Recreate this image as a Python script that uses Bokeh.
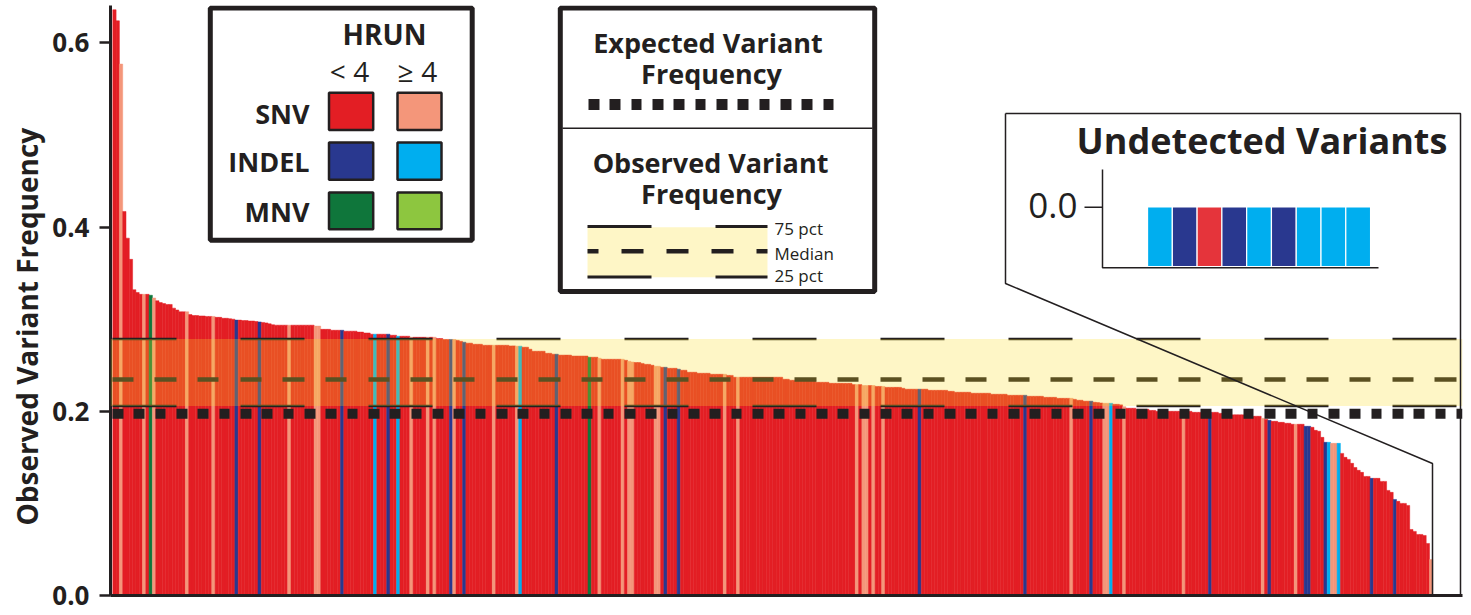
import numpy as np
from bokeh.plotting import figure
from bokeh.models import Range1d, FixedTicker, PrintfTickFormatter, Span, BoxAnnotation, Title
from bokeh.core.properties import value
from bokeh.embed import file_html
from bokeh.resources import INLINE

FONT = "Open Sans"
INK = "#231f20"

# ---------------- data ----------------
observed_freq = [
    0.636, 0.624, 0.577, 0.417, 0.388, 0.365, 0.332, 0.329, 0.327, 0.327,
    0.327, 0.326, 0.323, 0.320, 0.318, 0.317, 0.316, 0.316, 0.312, 0.310,
    0.308, 0.308, 0.308, 0.305, 0.304, 0.304, 0.3035, 0.3035, 0.303, 0.303,
    0.303, 0.302, 0.302, 0.301, 0.301, 0.3005, 0.300, 0.299, 0.299, 0.2985,
    0.2985, 0.298, 0.298, 0.2975, 0.297, 0.2965, 0.296, 0.295, 0.294, 0.2935,
    0.2935, 0.2935, 0.2935, 0.2935, 0.2935, 0.2935, 0.2935, 0.2935, 0.2935, 0.2935,
    0.2935, 0.2925, 0.2925, 0.289, 0.289, 0.289, 0.288, 0.288, 0.288, 0.288,
    0.287, 0.287, 0.287, 0.287, 0.286, 0.286, 0.285, 0.285, 0.2837, 0.2837,
    0.2837, 0.2837, 0.2837, 0.2837, 0.2826, 0.2826, 0.2815, 0.2815, 0.2815, 0.2815,
    0.2804, 0.2804, 0.2804, 0.2804, 0.2804, 0.2804, 0.2804, 0.2804, 0.279, 0.279,
    0.278, 0.278, 0.278, 0.278, 0.277, 0.276, 0.275, 0.274, 0.274, 0.2728,
    0.2728, 0.2728, 0.2717, 0.2717, 0.2717, 0.2717, 0.2717, 0.2717, 0.2717, 0.2717,
    0.271, 0.271, 0.2707, 0.2707, 0.2696, 0.2696, 0.2674, 0.2652, 0.2652, 0.2652,
    0.2652, 0.263, 0.263, 0.262, 0.262, 0.261, 0.261, 0.261, 0.261, 0.260,
    0.260, 0.260, 0.260, 0.260, 0.2587, 0.2587, 0.2587, 0.2576, 0.2565, 0.2565,
    0.2565, 0.2565, 0.2565, 0.2565, 0.2565, 0.2554, 0.2543, 0.2535, 0.253, 0.253,
    0.252, 0.251, 0.251, 0.250, 0.2489, 0.2489, 0.2478, 0.2478, 0.2467, 0.2467,
    0.2467, 0.2457, 0.2446, 0.2446, 0.2424, 0.2424, 0.2424, 0.2413, 0.2413, 0.2413,
    0.2413, 0.2402, 0.2402, 0.2402, 0.2402, 0.2402, 0.239, 0.239, 0.237, 0.237,
    0.237, 0.237, 0.237, 0.237, 0.237, 0.237, 0.237, 0.237, 0.237, 0.237,
    0.237, 0.237, 0.237, 0.2348, 0.2348, 0.2337, 0.2337, 0.2337, 0.2337, 0.2337,
    0.2337, 0.2337, 0.2337, 0.2315, 0.2315, 0.2315, 0.2315, 0.2304, 0.2304, 0.2304,
    0.2304, 0.2304, 0.2304, 0.2304, 0.229, 0.229, 0.229, 0.228, 0.228, 0.228,
    0.228, 0.227, 0.227, 0.227, 0.226, 0.226, 0.226, 0.226, 0.226, 0.225,
    0.224, 0.224, 0.224, 0.224, 0.224, 0.224, 0.224, 0.2228, 0.2228, 0.2228,
    0.2228, 0.2228, 0.2228, 0.2217, 0.2217, 0.2207, 0.2207, 0.2207, 0.2207, 0.2207,
    0.2196, 0.2196, 0.2196, 0.2196, 0.2196, 0.2196, 0.2185, 0.2185, 0.2185, 0.2185,
    0.2185, 0.2174, 0.2174, 0.2174, 0.2174, 0.2174, 0.2174, 0.2163, 0.2163, 0.2163,
    0.2163, 0.2163, 0.2152, 0.2152, 0.2152, 0.2152, 0.2141, 0.2141, 0.2141, 0.2141,
    0.2141, 0.213, 0.212, 0.212, 0.211, 0.211, 0.211, 0.2098, 0.2095, 0.209,
    0.2087, 0.2087, 0.2087, 0.2076, 0.2076, 0.207, 0.205, 0.2033, 0.2033, 0.2033,
    0.2022, 0.2022, 0.2022, 0.2022, 0.201, 0.201, 0.200, 0.200, 0.200, 0.200,
    0.200, 0.200, 0.200, 0.200, 0.200, 0.200, 0.200, 0.1989, 0.1989, 0.1989,
    0.1989, 0.1989, 0.1989, 0.1989, 0.1989, 0.1978, 0.1978, 0.1978, 0.1978, 0.1962,
    0.1962, 0.1962, 0.1962, 0.1957, 0.1946, 0.1946, 0.1946, 0.1946, 0.1924, 0.1913,
    0.1902, 0.1891, 0.1891, 0.188, 0.188, 0.187, 0.187, 0.1859, 0.1859, 0.1859,
    0.1859, 0.1837, 0.1837, 0.1826, 0.1793, 0.1783, 0.1717, 0.1663, 0.1663, 0.1652,
    0.1652, 0.1652, 0.1543, 0.15, 0.1478, 0.1435, 0.139, 0.1359, 0.1337, 0.1293,
    0.1293, 0.1272, 0.1272, 0.1272, 0.1239, 0.1239, 0.1141, 0.112, 0.1043, 0.1022,
    0.1, 0.1, 0.0978, 0.0717, 0.0696, 0.0663, 0.0663, 0.0652, 0.0565, 0.039,
]
assert len(observed_freq) == 400

# bar positions (index in sorted order) of the non "SNV, HRUN < 4" variants
snv_hrun_ge4 = [2, 9, 12, 22, 30, 53, 61, 62, 90, 95, 97, 103, 115, 122, 147, 154,
                156, 157, 164, 165, 185, 189, 225, 227, 228, 230, 233, 290, 300,
                301, 306, 324, 348, 358, 369, 370, 399]
indel_hrun_lt4 = [37, 44, 69, 83, 102, 106, 134, 167, 171, 244, 276, 296, 332,
                  350, 361, 362, 367, 381, 388]
indel_hrun_ge4 = [79, 86, 123, 302, 368, 371]
mnv_hrun_lt4 = [11, 144]
mnv_hrun_ge4 = []

undetected_types = ["INDEL_GE4", "INDEL_LT4", "SNV_LT4", "INDEL_LT4", "INDEL_GE4",
                    "INDEL_LT4", "INDEL_GE4", "INDEL_GE4", "INDEL_GE4"]
undetected_freq = [0.0] * 9

EXPECTED = 0.1973
Q25, MEDIAN, Q75 = 0.2058, 0.2345, 0.2785

legend_types = ["SNV", "INDEL", "MNV"]
legend_hrun = ["< 4", "\u2265 4"]

COLORS = {
    "SNV_LT4": "#e31e24", "SNV_GE4": "#f4967a",
    "INDEL_LT4": "#29388f", "INDEL_GE4": "#00aeef",
    "MNV_LT4": "#0f763b", "MNV_GE4": "#8dc63f",
}
BAND = "#fbdd26"
BAND_ALPHA = 0.262

# ---------------- build ----------------
N = len(observed_freq)
vtype = ["SNV_LT4"] * N
for name, idx in [("SNV_GE4", snv_hrun_ge4), ("INDEL_LT4", indel_hrun_lt4),
                  ("INDEL_GE4", indel_hrun_ge4), ("MNV_LT4", mnv_hrun_lt4),
                  ("MNV_GE4", mnv_hrun_ge4)]:
    for i in idx:
        vtype[i] = name
bar_colors = [COLORS[t] for t in vtype]

W, H = 1471, 615
FL, FR, FT, FB = 110, 1462, 5, 595  # plot frame, in page pixels

p = figure(width=W, height=H, output_backend="svg", toolbar_location=None,
           x_range=Range1d(-0.697, 409.0), y_range=Range1d(0, (FB - FT) / 921.0),
           min_border_left=FL, min_border_right=W - FR, min_border_top=FT,
           min_border_bottom=H - FB, background_fill_color="white",
           border_fill_color="white")
p.outline_line_color = None
p.xgrid.visible = False
p.ygrid.visible = False

# helper ranges: page-pixel placement for the decorations, and the inset scale
p.extra_x_ranges = {"px": Range1d(FL, FR), "ix": Range1d(-41.85, 12.71)}
p.extra_y_ranges = {"py": Range1d(FB, FT), "iy": Range1d(-(FB - 206.5) / 59.5, (206.5 - FT) / 59.5)}

# main bars
xs = np.arange(N) + 0.5
p.vbar(x=xs, width=1, top=observed_freq, bottom=0, fill_color=bar_colors,
       line_color=bar_colors, line_width=0.5)

# axes
p.yaxis.ticker = FixedTicker(ticks=[0, 0.2, 0.4, 0.6])
p.yaxis.formatter = PrintfTickFormatter(format="%.1f")
p.yaxis.major_label_text_font = FONT
p.yaxis.major_label_text_font_size = "26px"
p.yaxis.major_label_text_font_style = "bold"
p.yaxis.major_label_text_color = INK
p.yaxis.major_label_standoff = 10
p.yaxis.major_tick_out = 11
p.yaxis.major_tick_in = 0
p.yaxis.major_tick_line_width = 2.5
p.yaxis.major_tick_line_color = INK
p.yaxis.minor_tick_line_color = None
p.yaxis.axis_line_width = 3
p.yaxis.axis_line_color = INK

p.xaxis.ticker = FixedTicker(ticks=[])
p.xaxis.major_tick_line_color = None
p.xaxis.minor_tick_line_color = None
p.xaxis.major_label_text_font_size = "0px"
p.xaxis.axis_line_width = 3
p.xaxis.axis_line_color = INK

# y-axis title, starting ~70px above the frame bottom as in the reference
p.add_layout(Title(text="Observed Variant Frequency", align="left", offset=70,
                   standoff=7, text_font=FONT, text_font_size="28px",
                   text_font_style="bold", text_color=INK), "left")

# observed quartile lines + band, expected line
p.add_layout(Span(location=Q75, dimension="width", line_color=INK, line_width=2.5,
                  line_dash="64 64", line_dash_offset=126))
p.add_layout(Span(location=Q25, dimension="width", line_color=INK, line_width=2.5,
                  line_dash="64 64", line_dash_offset=126))
p.add_layout(Span(location=MEDIAN, dimension="width", line_color=INK, line_width=4.5,
                  line_dash="21 21 22 21 21 22", line_dash_offset=126))
p.add_layout(BoxAnnotation(bottom=Q25, top=Q75, fill_color=BAND,
                           fill_alpha=BAND_ALPHA, line_color=None))
p.add_layout(Span(location=EXPECTED, dimension="width", line_color=INK, line_width=10,
                  line_dash="11 10 11 11 10 11", line_dash_offset=62))

PX = dict(x_range_name="px", y_range_name="py")


def txt(x, y, s, size, bold=True, align="center"):
    # y is the text baseline in page pixels; small correction for how the
    # renderer places the alphabetic baseline
    p.text(x=[x], y=[y - 0.42 * size], text=[s], text_font=value(FONT),
           text_font_size=f"{size}px", text_font_style="bold" if bold else "normal",
           text_color=INK, text_align=align, text_baseline="alphabetic", **PX)


# ---- legend 1: variant type x HRUN ----
p.quad(left=[209.8], right=[471.7], top=[7.6], bottom=[239.8], fill_color="white",
       line_color=INK, line_width=5, **PX)
txt(384, 45, "HRUN", 28)
txt(349, 82.7, legend_hrun[0], 28, bold=False)
txt(417, 82.7, legend_hrun[1], 28, bold=False)
row_base = [124, 172.7, 222.7]
row_top = [92.3, 142, 192]
row_bot = [129.5, 179.3, 228.7]
col_l = [328.5, 397]
col_r = [372.7, 441]
for r, t in enumerate(legend_types):
    txt(309, row_base[r], t, 27, align="right")
    for c, suffix in enumerate(["_LT4", "_GE4"]):
        p.quad(left=[col_l[c]], right=[col_r[c]], top=[row_top[r]], bottom=[row_bot[r]],
               fill_color=COLORS[t + suffix], line_color=INK, line_width=2.5, **PX)

# ---- legend 2: expected / observed ----
p.quad(left=[559.8], right=[874.2], top=[7.6], bottom=[291], fill_color="white",
       line_color=INK, line_width=5, **PX)
p.line(x=[562, 872], y=[127.7, 127.7], line_color=INK, line_width=1.5, **PX)
txt(707.5, 53.3, "Expected Variant", 27)
txt(711, 84.3, "Frequency", 27)
p.line(x=[588, 834], y=[104, 104], line_color=INK, line_width=11,
       line_dash="11 10 11 11 10 11", **PX)
txt(710, 173.3, "Observed Variant", 27)
txt(711, 204, "Frequency", 27)
p.quad(left=[587], right=[767], top=[226.7], bottom=[276.7], fill_color=BAND,
       fill_alpha=BAND_ALPHA, line_color=None, **PX)
p.line(x=[587, 767], y=[226, 226], line_color=INK, line_width=3, line_dash="64 64", **PX)
p.line(x=[587, 767], y=[276.5, 276.5], line_color=INK, line_width=3, line_dash="64 64", **PX)
p.line(x=[587, 767], y=[250.7, 250.7], line_color=INK, line_width=4.5,
       line_dash="22 23", line_dash_offset=11, **PX)
txt(774, 235.3, "75 pct", 17, bold=False, align="left")
txt(774, 260, "Median", 17, bold=False, align="left")
txt(774, 281.7, "25 pct", 17, bold=False, align="left")

# ---- inset: undetected variants ----
p.multi_line(xs=[[1005, 1460, 1460], [1005, 1005, 1432, 1432]],
             ys=[[113, 113, 595], [113, 283, 463, 595]],
             line_color=INK, line_width=1.5, level="overlay", **PX)
txt(1261.5, 155, "Undetected Variants", 36)
p.multi_line(xs=[[1102, 1102, 1378], [1084, 1102]], ys=[[169, 267.3, 267.3], [206.7, 206.7]],
             line_color=INK, line_width=1.5, **PX)
txt(1077, 219.3, "0.0", 35, bold=False, align="right")
inset_colors = [COLORS[t] if t != "SNV_LT4" else "#e5343b" for t in undetected_types]
p.vbar(x=np.arange(len(undetected_freq)) + 0.5, width=1, top=undetected_freq, bottom=-1,
       fill_color=inset_colors, line_color="white", line_width=1.2,
       x_range_name="ix", y_range_name="iy")

open("out.html", "w").write(file_html(p, INLINE))
